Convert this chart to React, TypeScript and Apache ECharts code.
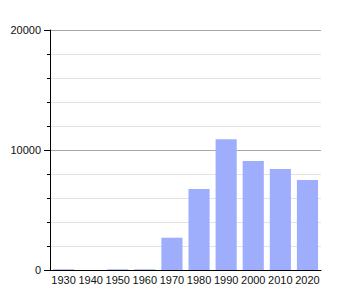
import React, { useEffect, useRef } from "react";
import * as echarts from "echarts";

const categories = ["1930", "1940", "1950", "1960", "1970", "1980", "1990", "2000", "2010", "2020"];
const values = [60, 0, 60, 60, 2690, 6750, 10890, 9080, 8420, 7500];

export default function App() {
  const ref = useRef<HTMLDivElement>(null);
  useEffect(() => {
    document.body.style.margin = "0";
    const chart = echarts.init(ref.current!, null, { renderer: "svg" });
    chart.setOption({
      animation: false,
      grid: { left: 50, right: 29, top: 30, bottom: 30 },
      xAxis: {
        type: "category",
        data: categories,
        axisLine: { lineStyle: { color: "#000", width: 1 } },
        axisTick: { show: false },
        axisLabel: { color: "#111", fontSize: 11, fontFamily: "Liberation Sans", margin: 4, interval: 0 },
      },
      yAxis: {
        type: "value",
        min: 0,
        max: 20000,
        interval: 10000,
        axisLine: { show: true, lineStyle: { color: "#000", width: 1 } },
        axisTick: { show: true, length: 6, lineStyle: { color: "#000" } },
        minorTick: { show: true, splitNumber: 5, length: 3, lineStyle: { color: "#000" } },
        splitLine: { show: true, lineStyle: { color: "#a8a8a8", width: 1 } },
        minorSplitLine: { show: true, lineStyle: { color: "#e2e2e2", width: 1 } },
        axisLabel: {
          color: "#111",
          fontSize: 11,
          fontFamily: "Liberation Sans",
          margin: 9,
          formatter: (v: number) => String(v),
        },
      },
      series: [
        {
          type: "bar",
          data: values,
          barCategoryGap: "22%",
          itemStyle: { color: "#9eaefd" },
        },
      ],
    });
    return () => chart.dispose();
  }, []);
  return <div ref={ref} style={{ width: 350, height: 300 }} />;
}
